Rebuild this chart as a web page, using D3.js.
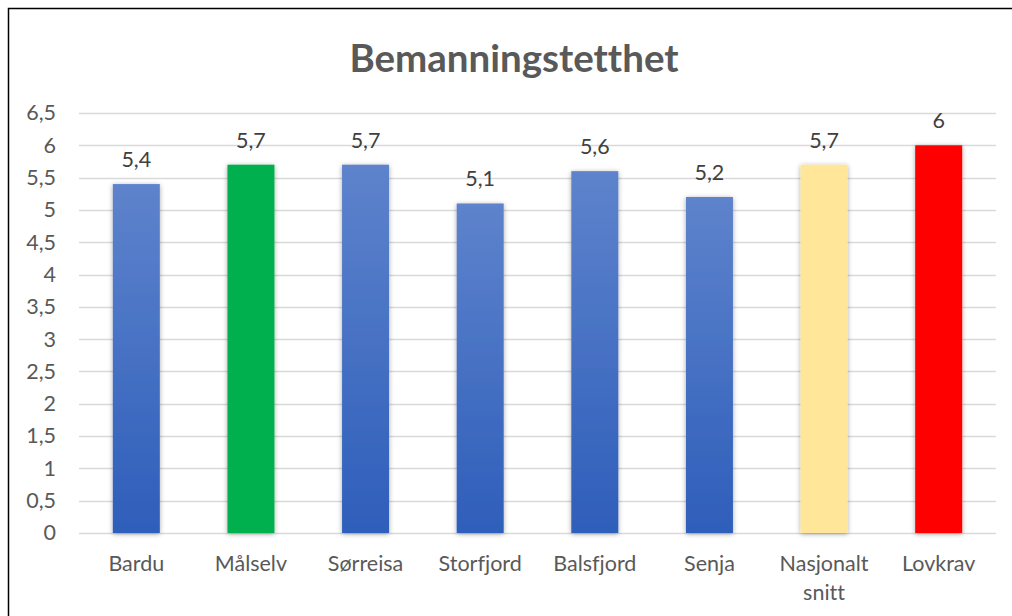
<!DOCTYPE html>
<html>
<head>
<meta charset="utf-8">
<script src="https://cdn.jsdelivr.net/npm/d3@7"></script>
<style>
  body { margin: 0; background: #fff; }
  svg { display: block; font-family: Lato, "Open Sans", sans-serif; font-variant-ligatures: none; }
</style>
</head>
<body>
<div id="chart"></div>
<script>
/* DATA */
const categories = ["Bardu", "Målselv", "Sørreisa", "Storfjord", "Balsfjord", "Senja", "Nasjonalt snitt", "Lovkrav"];
const values = [5.4, 5.7, 5.7, 5.1, 5.6, 5.2, 5.7, 6];
const barColors = ["blue", "#00b050", "blue", "blue", "blue", "blue", "#ffe699", "#ff0000"];
const yTicks = [0, 0.5, 1, 1.5, 2, 2.5, 3, 3.5, 4, 4.5, 5, 5.5, 6, 6.5];

const width = 1012,
  height = 616,
  margin = { top: 113, bottom: 83, left: 79, right: 16 };

const fmt = d => String(d).replace(".", ",");

const svg = d3.select("#chart")
  .append("svg")
  .attr("width", width)
  .attr("height", height);

const defs = svg.append("defs");
const grad = defs.append("linearGradient")
  .attr("id", "blueGrad")
  .attr("x1", 0).attr("y1", 0).attr("x2", 0).attr("y2", 1);
grad.append("stop").attr("offset", "0%").attr("stop-color", "#5e83cc");
grad.append("stop").attr("offset", "100%").attr("stop-color", "#2e5eba");

const shadow = defs.append("filter")
  .attr("id", "shadow")
  .attr("x", "-30%").attr("y", "-10%").attr("width", "160%").attr("height", "120%");
shadow.append("feDropShadow")
  .attr("dx", 0).attr("dy", 1)
  .attr("stdDeviation", 2.5)
  .attr("flood-color", "#000")
  .attr("flood-opacity", 0.35);

// border
svg.append("rect")
  .attr("x", 8.5).attr("y", 8.5)
  .attr("width", 1010).attr("height", 620)
  .attr("fill", "none")
  .attr("stroke", "#000")
  .attr("stroke-width", 1.5);

// title
svg.append("text")
  .attr("x", 514)
  .attr("y", 72)
  .attr("text-anchor", "middle")
  .attr("font-size", 38.5)
  .attr("font-weight", "bold")
  .attr("fill", "#595959")
  .text("Bemanningstetthet");

/* SCALES */
const xScale = d3.scaleBand()
  .domain(categories)
  .range([margin.left, width - margin.right])
  .paddingInner(0.59)
  .paddingOuter(0.295);

const yScale = d3.scaleLinear()
  .domain([0, 6.5])
  .range([height - margin.bottom, margin.top]);

// gridlines
svg.append("g")
  .selectAll("line")
  .data(yTicks)
  .join("line")
  .attr("x1", margin.left)
  .attr("x2", width - margin.right)
  .attr("y1", d => Math.round(yScale(d)) + 0.5)
  .attr("y2", d => Math.round(yScale(d)) + 0.5)
  .attr("stroke", "#d9d9d9")
  .attr("stroke-width", 1.5);

// y axis
const yAxis = d3.axisLeft(yScale)
  .tickValues(yTicks)
  .tickFormat(fmt)
  .tickSize(0)
  .tickPadding(0);

svg.append("g")
  .attr("class", "y-axis")
  .attr("transform", `translate(56,0)`)
  .call(yAxis)
  .call(g => g.select(".domain").remove())
  .selectAll("text")
  .attr("font-size", 21.5)
  .attr("fill", "#595959")
  .attr("font-family", "Lato, sans-serif");

// bars
svg.append("g")
  .selectAll("rect")
  .data(values)
  .join("rect")
  .attr("x", (d, i) => xScale(categories[i]))
  .attr("width", xScale.bandwidth())
  .attr("y", d => yScale(d))
  .attr("height", d => yScale(0) - yScale(d))
  .attr("fill", (d, i) => barColors[i] === "blue" ? "url(#blueGrad)" : barColors[i])
  .attr("filter", "url(#shadow)");

// data labels
svg.append("g")
  .selectAll("text")
  .data(values)
  .join("text")
  .attr("x", (d, i) => xScale(categories[i]) + xScale.bandwidth() / 2)
  .attr("y", d => yScale(d) - 17)
  .attr("text-anchor", "middle")
  .attr("font-size", 21.5)
  .attr("fill", "#404040")
  .text(fmt);

// x labels
const xLabels = svg.append("g")
  .selectAll("text")
  .data(categories)
  .join("text")
  .attr("x", d => xScale(d) + xScale.bandwidth() / 2)
  .attr("y", 571)
  .attr("text-anchor", "middle")
  .attr("font-size", 21.5)
  .attr("fill", "#595959");

xLabels.each(function(d) {
  const words = d === "Nasjonalt snitt" ? ["Nasjonalt", "snitt"] : [d];
  const t = d3.select(this);
  words.forEach((w, i) => {
    t.append("tspan")
      .attr("x", t.attr("x"))
      .attr("dy", i === 0 ? 0 : 29)
      .text(w);
  });
});
</script>
</body>
</html>
